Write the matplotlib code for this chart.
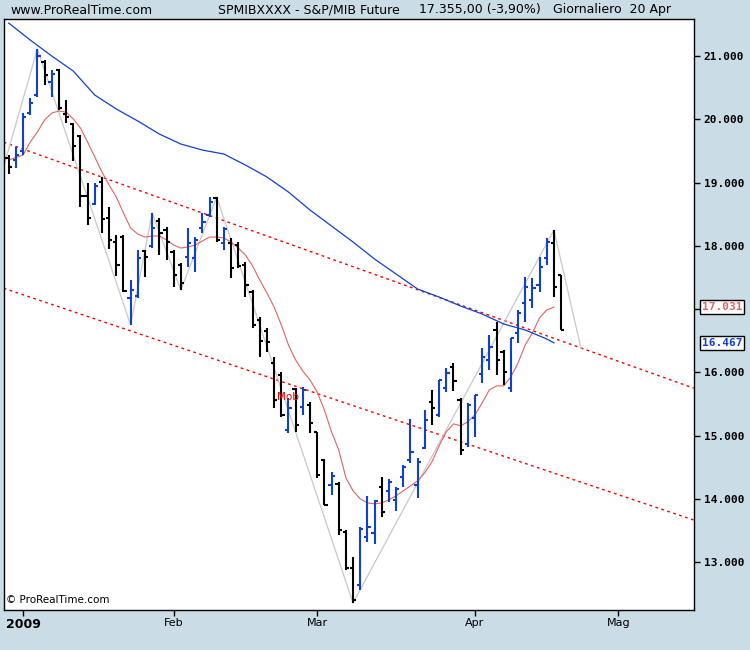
import matplotlib.pyplot as plt
from matplotlib.transforms import blended_transform_factory

# Barre giornaliere OHLC (indice = giorno di borsa, 0 = 29 dic 2008)
aperture = [19389, 19357, 19500, 20100, 20385, 20907, 20591, 20780, 20085, 19927,
            19737, 18788, 18662, 19010, 18440, 18061, 18140, 17176, 17207, 17919,
            17998, 18393, 18251, 17903, 17697, 17824, 17808, 18282, 18488, 18757,
            18045, 18045, 18014, 17697, 17270, 16828, 16654, 16148, 15958, 15089,
            15737, 15452, 15484, 15057, 14614, 14219, 14235, 13476, 12907, 12638,
            13397, 13460, 14188, 14124, 13982, 14346, 14614, 14219, 14804, 15531,
            15326, 15753, 16085, 15563, 14867, 15278, 15974, 16195, 16670, 16322,
            15753, 16622, 17097, 17144, 17381, 17808, 18045, 17539]
massimi = [19436, 19563, 20100, 20338, 21112, 20938, 20780, 20796, 20306, 19942,
           19753, 18994, 18994, 19089, 18614, 18172, 18172, 17460, 17935, 17935,
           18519, 18440, 18298, 17935, 17729, 18282, 18140, 18519, 18772, 18772,
           18298, 18124, 18061, 17745, 17302, 16875, 16701, 16243, 16006, 15595,
           15753, 15769, 15531, 15057, 14630, 14425, 14267, 13508, 13081, 13555,
           14045, 13982, 14346, 14314, 14188, 14535, 15263, 14646, 15405, 15721,
           15879, 16069, 16148, 15595, 15516, 15642, 16385, 16591, 16796, 16354,
           16543, 16986, 17508, 17492, 17824, 18124, 18251, 17539]
minimi = [19136, 19231, 19436, 20069, 20353, 20543, 20353, 20148, 19942, 19341,
          18614, 18330, 18646, 18203, 17950, 17523, 17271, 16749, 17176, 17508,
          17966, 17855, 17776, 17349, 17302, 17666, 17587, 18203, 18456, 18061,
          17935, 17492, 17650, 17191, 16701, 16243, 16322, 15437, 15294, 15041,
          15057, 15326, 15041, 14330, 13903, 14061, 13429, 12875, 12354, 12559,
          13318, 13286, 13713, 13950, 13808, 14188, 14567, 14014, 14788, 15168,
          15294, 15689, 15705, 14694, 14820, 14978, 15832, 16037, 15958, 15800,
          15689, 16464, 16796, 17018, 17271, 17697, 17191, 16670]
chiusure = [19247, 19436, 20037, 20259, 21002, 20701, 20717, 20180, 20037, 19579,
            18788, 18440, 18946, 18425, 18093, 17697, 17286, 17302, 17808, 17824,
            18282, 18203, 18061, 17539, 17413, 18045, 18093, 18377, 18693, 18093,
            18267, 17650, 17682, 17381, 16749, 16496, 16480, 15563, 15326, 15437,
            15168, 15721, 15199, 14377, 13903, 14361, 13508, 12907, 12401, 13523,
            13555, 13966, 13792, 14267, 14156, 14504, 14741, 14583, 15247, 15437,
            15879, 15990, 15863, 14772, 15484, 15642, 16243, 16401, 16195, 16006,
            16543, 16938, 17350, 17334, 17666, 18061, 17355, 16670]

# Media mobile lenta (blu)
media_lenta_x = [0, 3, 6, 9, 12, 15, 18, 21, 24, 27, 30, 33, 36, 39, 42, 45, 48,
                 51, 54, 57, 60, 63, 66, 69, 72, 75, 76]
media_lenta = [21523, 21255, 21002, 20764, 20385, 20164, 19974, 19768, 19610, 19515,
               19452, 19278, 19089, 18851, 18567, 18314, 18061, 17792, 17555, 17318,
               17191, 17049, 16923, 16765, 16670, 16528, 16467]

# Media mobile veloce (rossa)
media_veloce_x = list(range(0, 77))
media_veloce_x.remove(1)
media_veloce = [19357, 19436, 19642, 19800, 19990, 20100, 20132, 20116, 20006,
                19863, 19642, 19405, 19168, 18962, 18773, 18520, 18282, 18187, 18140,
                18156, 18156, 18093, 18014, 17966, 17982, 18014, 18077, 18140, 18140,
                18124, 18061, 17966, 17855, 17681, 17460, 17254, 17033, 16750, 16432,
                16195, 16021, 15880, 15690, 15406, 15060, 14775, 14333, 14127, 14000,
                13937, 13921, 13937, 13985, 14048, 14127, 14206, 14285, 14412, 14586,
                14839, 15060, 15186, 15155, 15218, 15329, 15518, 15723, 15786, 15786,
                15929, 16150, 16434, 16624, 16861, 16987, 17031]

# Zigzag dei massimi/minimi
zigzag_x = [-0.75, 4, 17, 20, 24, 29, 48, 76, 79.8]
zigzag = [19231, 21112, 16749, 18519, 17302, 18772, 12354, 18251, 16368]

# Canale ribassista (linee tratteggiate rosse)
canale_x = [-0.7, 95.5]
canale_alto = [19640, 15750]
canale_basso = [17330, 13665]

livelli = [13000, 14000, 15000, 16000, 17000, 18000, 19000, 20000, 21000]
mesi_pos = [2, 23, 43, 65, 85]
mesi = ['2009', 'Feb', 'Mar', 'Apr', 'Mag']

blu = '#1040d0'
rosso_media = '#e06464'

fig = plt.figure(figsize=(7.5, 6.5), dpi=100, facecolor='#cadce6')
ax = fig.add_axes([3.8 / 750, 1 - 610 / 650, 690 / 750, 591 / 650])
ax.set_facecolor('white')

ax.plot(canale_x, canale_alto, color='red', lw=1, ls=(0, (2, 2.5)))
ax.plot(canale_x, canale_basso, color='red', lw=1, ls=(0, (2, 2.5)))
ax.plot(zigzag_x, zigzag, color='#c8c8c8', lw=0.9)
ax.plot(media_veloce_x, media_veloce, color=rosso_media, lw=0.8)
ax.plot(media_lenta_x, media_lenta, color=blu, lw=0.9)

x = list(range(len(chiusure)))
colori = [blu if c > o else 'black' for o, c in zip(aperture, chiusure)]
ax.vlines(x, minimi, massimi, colors=colori, lw=1.5)
ax.hlines(aperture, [i - 0.45 for i in x], x, colors=colori, lw=1.5)
ax.hlines(chiusure, x, [i + 0.45 for i in x], colors=colori, lw=1.5)

ax.text(37.4, 15610, 'Mob', color='red', fontsize=7.5, va='center', ha='left')

ax.set_xlim(-0.68, 95.5)
ax.set_ylim(12243, 21587)

ax.yaxis.tick_right()
ax.set_yticks(livelli)
ax.set_yticklabels(['' if v == 17000 else f'{v:,}'.replace(',', '.') for v in livelli],
                   fontfamily='DejaVu Sans Mono', fontweight='bold')
ax.tick_params(axis='y', direction='out', length=4, width=1, pad=3, labelsize=8)
ax.set_xticks(mesi_pos)
ax.set_xticklabels(mesi)
ax.tick_params(axis='x', direction='out', length=4, width=1, pad=2, labelsize=8)
ax.get_xticklabels()[0].set_fontweight('bold')
ax.get_xticklabels()[0].set_fontsize(9)
for s in ax.spines.values():
    s.set_color('black')
    s.set_linewidth(1)

# Ultimi valori delle medie
trasf = blended_transform_factory(ax.transAxes, ax.transData)
ax.text(1.012, 17031, '17.031', transform=trasf, color=rosso_media, fontsize=8,
        fontfamily='DejaVu Sans Mono', fontweight='bold', va='center', ha='left',
        bbox=dict(boxstyle='square,pad=0.15', fc='white', ec='black', lw=1), clip_on=False)
ax.text(1.012, 16467, '16.467', transform=trasf, color=blu, fontsize=8,
        fontfamily='DejaVu Sans Mono', fontweight='bold', va='center', ha='left',
        bbox=dict(boxstyle='square,pad=0.15', fc='white', ec='black', lw=1), clip_on=False)

ax.text(0.003, 0.008, '© ProRealTime.com', transform=ax.transAxes, fontsize=7.5,
        va='bottom', ha='left')

fig.text(10 / 750, 1 - 10 / 650, 'www.ProRealTime.com', fontsize=9, va='center', ha='left')
fig.text(218 / 750, 1 - 10 / 650, 'SPMIBXXXX - S&P/MIB Future', fontsize=9, va='center', ha='left')
fig.text(419 / 750, 1 - 10 / 650, '17.355,00 (-3,90%)', fontsize=9, va='center', ha='left')
fig.text(553 / 750, 1 - 10 / 650, 'Giornaliero  20 Apr', fontsize=9, va='center', ha='left')

fig.savefig('out.png', dpi=100, facecolor=fig.get_facecolor())
